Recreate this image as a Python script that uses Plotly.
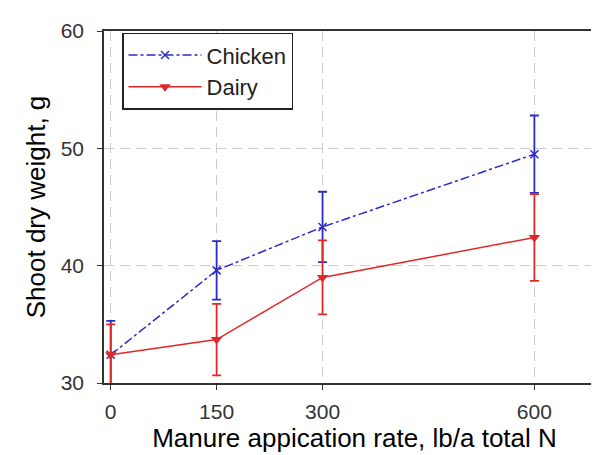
import plotly.graph_objects as go

rates = [0, 150, 300, 600]
chicken = [32.4, 39.6, 43.3, 49.5]
chicken_err = [2.9, 2.5, 3.0, 3.3]
dairy = [32.4, 33.7, 39.0, 42.4]
dairy_err = [2.6, 3.05, 3.15, 3.7]
x_ticks = [0, 150, 300, 600]
y_ticks = [30, 40, 50, 60]

BLUE = "#2b2bc8"
RED = "#e02828"
FONT = "Arial, Liberation Sans, sans-serif"

fig = go.Figure()
fig.add_trace(go.Scatter(
    x=rates, y=chicken, name="Chicken", mode="lines+markers",
    line=dict(color=BLUE, width=1.5, dash="dashdot"),
    marker=dict(symbol="x-thin", size=8, line=dict(color=BLUE, width=1.5)),
    error_y=dict(type="data", array=chicken_err, color=BLUE, thickness=1.8, width=4.5),
))
fig.add_trace(go.Scatter(
    x=rates, y=dairy, name="Dairy", mode="lines+markers",
    line=dict(color=RED, width=1.5),
    marker=dict(symbol="triangle-down", size=10, color=RED),
    error_y=dict(type="data", array=dairy_err, color=RED, thickness=1.8, width=4.5),
))

fig.update_layout(
    width=599, height=455,
    margin=dict(l=96, r=2, t=23, b=80),
    paper_bgcolor="white", plot_bgcolor="white",
    font=dict(family=FONT, color="black"),
    showlegend=True,
    legend=dict(
        x=0.036, y=0.995, xanchor="left", yanchor="top",
        bgcolor="white", bordercolor="#222", borderwidth=1.5,
        font=dict(size=22, family=FONT, color="#222"),
        itemwidth=73, tracegroupgap=0,
    ),
)
fig.update_xaxes(
    range=[-9.5, 700], tickvals=x_ticks, ticks="outside", ticklen=5, tickcolor="#333",
    showline=True, linecolor="#333", linewidth=1.5, mirror=True,
    showgrid=True, gridcolor="#cccccc", griddash="10px,6px", gridwidth=1.2,
    zeroline=False, automargin=False, ticklabelstandoff=4,
    tickfont=dict(size=21, color="#333"),
    title=dict(text="Manure appication rate, lb/a total N", font=dict(size=26, color="black"), standoff=6),
)
fig.update_yaxes(
    range=[30, 60], tickvals=y_ticks, ticks="outside", ticklen=5, tickcolor="#333",
    showline=True, linecolor="#333", linewidth=1.5, mirror=True,
    showgrid=True, gridcolor="#cccccc", griddash="10px,6px", gridwidth=1.2,
    zeroline=False, automargin=False, ticklabelstandoff=9,
    tickfont=dict(size=21, color="#333"),
    title=dict(text="Shoot dry weight, g", font=dict(size=26, color="black"), standoff=8),
)

fig.write_html("out.html")
